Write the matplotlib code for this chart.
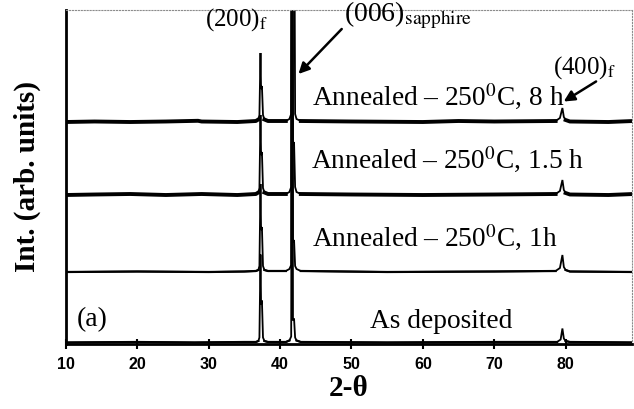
import numpy as np
import matplotlib
matplotlib.use("Agg")
import matplotlib.pyplot as plt

plt.rcParams["font.family"] = ["Liberation Serif", "DejaVu Serif"]
plt.rcParams["mathtext.fontset"] = "stix"

# Traces: 2-theta points and intensity above each trace's baseline
# (intensity in arbitrary units, roughly the pixel height in the original figure)
tt_asdep = [10, 20, 28, 35, 36.6, 36.95, 37.1, 37.25, 37.33, 37.45, 37.6, 37.8, 38.3,
            40.8, 41.3, 41.55, 41.7, 41.8, 41.95, 42.1, 42.3, 42.9, 55, 70,
            78.8, 79.3, 79.55, 79.75, 80.0, 80.6, 89.5]
int_asdep = [0, 0.5, 0, 0.5, 0.5, 1.5, 5, 88, 38, 42, 5, 1.5, 0.5,
             0.5, 2, 6, 600, 22, 24, 5, 2, 0.5, 0, 0.5,
             0.5, 3, 14, 4, 1.5, 0.5, 0]

tt_1h = [10, 20, 30, 35, 36.6, 36.95, 37.1, 37.25, 37.33, 37.45, 37.6, 37.8, 38.3,
         40.8, 41.3, 41.55, 41.7, 41.8, 41.95, 42.1, 42.3, 42.9, 55, 70,
         78.6, 79.2, 79.55, 79.75, 80.0, 80.6, 89.5]
int_1h = [0, 0.5, 0, 0.5, 1, 2, 6, 88, 42, 45, 6, 2, 1,
          1, 3, 7, 600, 30, 32, 6, 3, 1, 0, 0.5,
          1, 4, 17, 5, 2, 0.5, 0]

tt_15h = [10, 14, 19, 24, 29, 34, 36.6, 36.95, 37.1, 37.25, 37.33, 37.45, 37.6, 37.8, 38.3,
          40.8, 41.3, 41.55, 41.7, 41.8, 41.95, 42.1, 42.3, 42.9, 50, 60, 70,
          78.6, 79.2, 79.55, 79.75, 80.0, 80.6, 86, 89.5]
int_15h = [0, 0.5, 1, 0, 1, 0, 1, 2.5, 7, 80, 40, 43, 7, 2.5, 1,
           1, 3, 8, 600, 50, 53, 8, 3, 1, 0.5, 0, 0.5,
           1, 4, 15, 5, 2, 0.5, 0, 1]

tt_8h = [10, 14, 19, 24, 28.5, 29, 34, 36.6, 36.95, 37.1, 37.25, 37.33, 37.45, 37.6, 37.8, 38.3,
         40.8, 41.3, 41.55, 41.7, 41.8, 41.95, 42.1, 42.3, 42.9, 50, 60, 65, 70,
         78.6, 79.2, 79.55, 79.75, 80.0, 80.6, 86, 89.5]
int_8h = [0, 0.5, 0, 0.5, 1.2, 0.5, 0, 1, 2.5, 7, 69, 33, 36, 7, 2.5, 1,
          1, 3, 8, 600, 300, 300, 8, 3, 1, 0.5, 0, 1.0, 0.5,
          1, 4, 14, 5, 2, 0.5, 0, 1]

# stacking offsets of each trace
offsets = [1.5, 72, 149, 222]
labels = ["As deposited", "Annealed \u2013 250$^{0}$C, 1h",
          "Annealed \u2013 250$^{0}$C, 1.5 h", "Annealed \u2013 250$^{0}$C, 8 h"]
traces = [(tt_asdep, int_asdep), (tt_1h, int_1h), (tt_15h, int_15h), (tt_8h, int_8h)]
noise_lw = [1.6, 1.6, 2.8, 2.8]

fig = plt.figure(figsize=(6.34, 4.09), dpi=100)
ax = fig.add_axes([66 / 634, 65 / 409, 566 / 634, 334 / 409])

for (tt, inten), off, lw in zip(traces, offsets, noise_lw):
    tt = np.array(tt, dtype=float)
    inten = np.array(inten, dtype=float)
    ax.plot(tt, inten + off, color="black", lw=1.3, solid_joinstyle="miter")
    base = np.ma.masked_where(inten > 2.5, inten + off)
    ax.plot(tt, base, color="black", lw=lw)

ax.set_xlim(10, 89.3)
ax.set_ylim(0, 334)

# trace labels
ax.text(52.6, 22, labels[0], fontsize=19.7, va="center", ha="left")
ax.text(44.5, 106, labels[1], fontsize=19.7, va="center", ha="left")
ax.text(44.3, 184, labels[2], fontsize=19.7, va="center", ha="left")
ax.text(44.4, 247, labels[3], fontsize=19.7, va="center", ha="left")
ax.text(11.5, 24, "(a)", fontsize=20, va="center", ha="left")

# peak labels
ax.text(29.5, 324, "(200)$_{\\mathrm{f}}$", fontsize=18, va="center", ha="left")
ax.text(48.9, 329, "(006)$_{\\mathrm{sapphire}}$", fontsize=20, va="center", ha="left")
ax.text(78.3, 276, "(400)$_{\\mathrm{f}}$", fontsize=18, va="center", ha="left")
ax.annotate("", xy=(42.3, 268), xytext=(48.9, 317),
            arrowprops=dict(arrowstyle="-|>", color="black", lw=1.8, mutation_scale=16))
ax.annotate("", xy=(79.4, 241), xytext=(84.6, 264),
            arrowprops=dict(arrowstyle="-|>", color="black", lw=1.8, mutation_scale=16))

ax.set_xticks(np.arange(10, 90, 10))
ax.set_yticks([])
ax.tick_params(axis="x", direction="inout", length=7, width=1.5, pad=6)
for lab in ax.get_xticklabels():
    lab.set_fontfamily("Liberation Sans")
    lab.set_fontweight("bold")
    lab.set_fontsize(11.5)

ax.spines["left"].set_linewidth(2)
ax.spines["bottom"].set_linewidth(2)
for side in ["top", "right"]:
    ax.spines[side].set_linewidth(0.8)
    ax.spines[side].set_linestyle(":")
    ax.spines[side].set_color("0.55")

ax.set_xlabel("2-\u03b8", fontsize=21, fontweight="bold", labelpad=2)
ax.set_ylabel("Int. (arb. units)", fontsize=21, fontweight="bold", labelpad=18)

fig.savefig("out.png", dpi=100)
